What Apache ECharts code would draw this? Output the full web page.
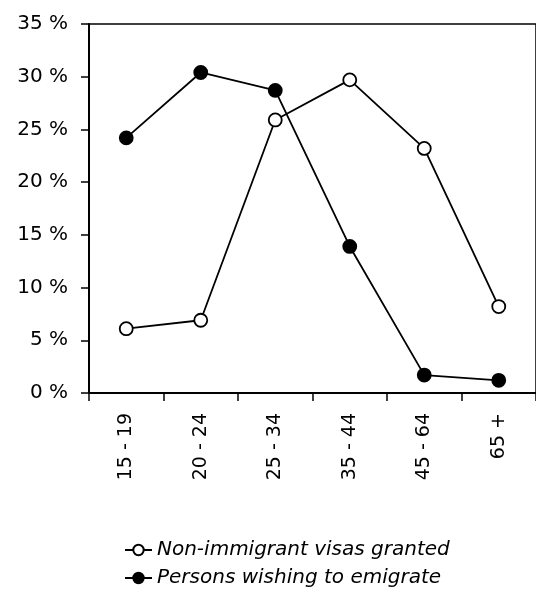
<!DOCTYPE html>
<html>
<head>
<meta charset="utf-8">
<script src="https://cdn.jsdelivr.net/npm/echarts@6/dist/echarts.min.js"></script>
<style>
  html, body { margin: 0; padding: 0; background: #fff; }
  #chart { width: 536px; height: 594px; }
</style>
</head>
<body>
<div id="chart"></div>
<script>
// Age groups and shares (%)
const ageGroups = ['15 - 19', '20 - 24', '25 - 34', '35 - 44', '45 - 64', '65 +'];
const visasGranted = [6.1, 6.9, 25.9, 29.7, 23.2, 8.2];
const wishingToEmigrate = [24.2, 30.4, 28.7, 13.9, 1.7, 1.2];

const FONT = '"DejaVu Sans", sans-serif';

const chart = echarts.init(document.getElementById('chart'));

const lineSeries = (name, data, fill) => ({
  name,
  type: 'line',
  data,
  symbol: 'circle',
  symbolSize: 13,
  lineStyle: { color: '#000', width: 1.8 },
  itemStyle: { color: fill, borderColor: '#000', borderWidth: 1.8 },
  emphasis: { disabled: true },
});

chart.setOption({
  animation: false,
  backgroundColor: '#fff',
  textStyle: { fontFamily: FONT, color: '#000' },
  grid: { left: 89, right: -4, top: 24, bottom: 201, show: true, borderColor: '#000', borderWidth: 1.5 },
  xAxis: {
    type: 'category',
    data: ageGroups,
    boundaryGap: true,
    axisLine: { lineStyle: { color: '#000', width: 2 } },
    axisTick: { show: true, length: 8, lineStyle: { color: '#000', width: 1.5 } },
    axisLabel: { rotate: 90, fontSize: 19, color: '#000', margin: 20, fontFamily: FONT },
  },
  yAxis: {
    type: 'value',
    min: 0,
    max: 35,
    interval: 5,
    axisLine: { show: true, lineStyle: { color: '#000', width: 2 } },
    axisTick: { show: true, length: 8, lineStyle: { color: '#000', width: 1.5 } },
    splitLine: { show: false },
    axisLabel: { formatter: '{value} %', fontSize: 20, color: '#000', margin: 21, fontFamily: FONT },
  },
  legend: {
    orient: 'vertical',
    left: 119,
    top: 535,
    itemGap: 8,
    itemWidth: 27,
    itemHeight: 13,
    textStyle: { fontSize: 20, fontStyle: 'italic', color: '#000', fontFamily: FONT },
    data: ['Non-immigrant visas granted', 'Persons wishing to emigrate'],
  },
  series: [
    lineSeries('Non-immigrant visas granted', visasGranted, '#fff'),
    lineSeries('Persons wishing to emigrate', wishingToEmigrate, '#000'),
  ],
});
</script>
</body>
</html>
